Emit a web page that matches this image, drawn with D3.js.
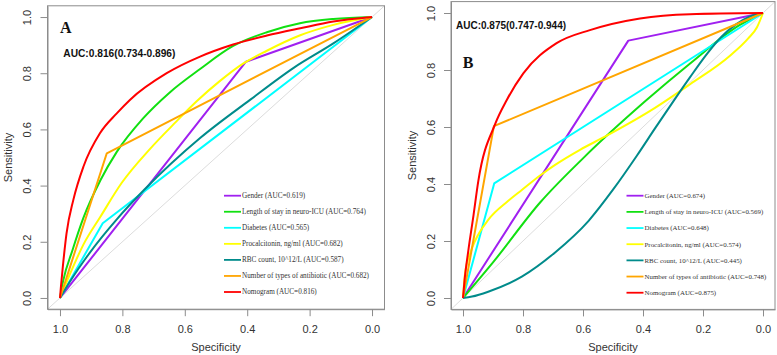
<!DOCTYPE html>
<html>
<head>
<meta charset="utf-8">
<script src="https://cdn.jsdelivr.net/npm/d3@7"></script>
<style>
  body { margin: 0; background: #fff; }
</style>
</head>
<body>
<svg id="chart" width="777" height="355"></svg>
<script>
// legend order (same in both panels)
const names = ["Gender", "Length of stay in neuro-ICU", "Diabetes", "Procalcitonin, ng/ml",
               "RBC count, 10^12/L", "Number of types of antibiotic", "Nomogram"];
const colors = ["#a020f0", "#11e011", "#00ffff", "#ffff00", "#008b8b", "#ffa500", "#ff0000"];
const smooth = [false, true, false, true, true, false, true];
const aucA = ["0.619", "0.764", "0.565", "0.682", "0.587", "0.682", "0.816"];
const aucB = ["0.674", "0.569", "0.648", "0.574", "0.445", "0.748", "0.875"];
const ticks = [0, 0.2, 0.4, 0.6, 0.8, 1.0];

// ROC points, [specificity, sensitivity] -- panel A
const genderA = [[1, 0], [0.404, 0.841], [0, 1]];
const losA = [[1, 0], [0.99, 0.06], [0.96, 0.17], [0.925, 0.285], [0.87, 0.42], [0.818, 0.52], [0.733, 0.64],
              [0.65, 0.73], [0.551, 0.815], [0.445, 0.897], [0.337, 0.946], [0.231, 0.978], [0.124, 0.993], [0, 1]];
const diabetesA = [[1, 0], [0.863, 0.266], [0, 1]];
const pctA = [[1, 0], [0.97, 0.08], [0.925, 0.19], [0.87, 0.29], [0.802, 0.41], [0.712, 0.53], [0.63, 0.625],
              [0.562, 0.70], [0.49, 0.77], [0.412, 0.835], [0.337, 0.88], [0.23, 0.935], [0.124, 0.972], [0, 1]];
const rbcA = [[1, 0], [0.97, 0.055], [0.906, 0.159], [0.818, 0.28], [0.73, 0.385], [0.55, 0.57],
              [0.391, 0.705], [0.25, 0.82], [0.124, 0.906], [0, 1]];
const abxA = [[1, 0], [0.85, 0.515], [0, 1]];
const nomoA = [[1, 0], [0.997, 0.04], [0.991, 0.11], [0.979, 0.23], [0.957, 0.35], [0.925, 0.467], [0.872, 0.586],
               [0.818, 0.657], [0.776, 0.705], [0.658, 0.80], [0.551, 0.859], [0.445, 0.902], [0.337, 0.934],
               [0.23, 0.96], [0.124, 0.984], [0, 1]];

// panel B
const genderB = [[1, 0], [0.449, 0.903], [0, 1]];
const losB = [[1, 0], [0.9, 0.125], [0.743, 0.335], [0.6, 0.49], [0.393, 0.69], [0.243, 0.823], [0.077, 0.958], [0, 1]];
const diabetesB = [[1, 0], [0.896, 0.402], [0, 1]];
const pctB = [[1, 0], [0.993, 0.087], [0.975, 0.16], [0.96, 0.2], [0.916, 0.274], [0.85, 0.34], [0.804, 0.379],
              [0.743, 0.43], [0.693, 0.467], [0.61, 0.52], [0.527, 0.566], [0.36, 0.667], [0.243, 0.75],
              [0.11, 0.85], [0.05, 0.91], [0.02, 0.95], [0, 1]];
const rbcB = [[1, 0], [0.97, 0.005], [0.916, 0.022], [0.804, 0.075], [0.693, 0.16], [0.582, 0.27], [0.5, 0.38],
              [0.42, 0.5], [0.36, 0.595], [0.299, 0.69], [0.243, 0.775], [0.188, 0.855], [0.14, 0.915],
              [0.09, 0.96], [0.045, 0.987], [0, 1]];
const abxB = [[1, 0], [0.897, 0.603], [0, 1]];
const nomoB = [[1, 0], [0.995, 0.06], [0.982, 0.168], [0.965, 0.29], [0.949, 0.41], [0.893, 0.61], [0.854, 0.695],
               [0.799, 0.788], [0.688, 0.894], [0.577, 0.94], [0.41, 0.981], [0.243, 0.996], [0, 1]];

const svg = d3.select("#chart");
const sans = "'Liberation Sans', Arial, sans-serif";
const serif = "'Liberation Serif', 'Times New Roman', serif";

const drawPanel = (p) => {
    // R style axes: 4% padding around [0,1]
    const x = d3.scaleLinear().domain([1.04, -0.04]).range([p.left, p.right]);
    const y = d3.scaleLinear().domain([-0.04, 1.04]).range([p.bottom, p.top]);
    const g = svg.append("g");

    // reference diagonal
    g.append("line")
        .attr("x1", x(1.04)).attr("y1", y(-0.04))
        .attr("x2", x(-0.04)).attr("y2", y(1.04))
        .attr("stroke", "#dcdcdc").attr("stroke-width", 1);

    // ROC curves
    p.series.forEach((s, i) => {
        const line = d3.line()
            .x(d => x(d[0]))
            .y(d => y(d[1]))
            .curve(smooth[i] ? d3.curveMonotoneX : d3.curveLinear);
        g.append("path")
            .datum(s)
            .attr("d", line)
            .attr("fill", "none")
            .attr("stroke", colors[i])
            .attr("stroke-width", 2)
            .attr("stroke-linejoin", "round");
    });

    // box
    g.append("rect")
        .attr("x", p.left).attr("y", p.top)
        .attr("width", p.right - p.left).attr("height", p.bottom - p.top)
        .attr("fill", "none").attr("stroke", "#8c8c8c").attr("stroke-width", 1);

    // x axis
    const xa = g.append("g")
        .attr("transform", `translate(0, ${p.bottom})`)
        .call(d3.axisBottom(x).tickValues(ticks).tickFormat(d3.format(".1f")).tickSize(7).tickSizeOuter(0));
    xa.select(".domain").attr("stroke", "#8c8c8c");
    xa.selectAll(".tick line").attr("stroke", "#8c8c8c");
    xa.selectAll("text")
        .attr("y", 24).attr("dy", 0)
        .style("font-family", sans).style("font-size", "11px").attr("fill", "#333");

    // y axis (labels parallel to the axis)
    const ya = g.append("g")
        .attr("transform", `translate(${p.left}, 0)`)
        .call(d3.axisLeft(y).tickValues(ticks).tickFormat(d3.format(".1f")).tickSize(7).tickSizeOuter(0));
    ya.select(".domain").attr("stroke", "#8c8c8c");
    ya.selectAll(".tick line").attr("stroke", "#8c8c8c");
    ya.selectAll("text")
        .attr("x", 0).attr("y", -p.ylabOff).attr("dy", "0.35em")
        .attr("transform", "rotate(-90)")
        .attr("text-anchor", "middle")
        .style("font-family", sans).style("font-size", "11px").attr("fill", "#333");

    // axis titles
    g.append("text")
        .attr("x", (x(1) + x(0)) / 2).attr("y", 350.5)
        .attr("text-anchor", "middle")
        .style("font-family", sans).style("font-size", "11px").attr("fill", "#333")
        .text("Specificity");
    g.append("text")
        .attr("transform", `translate(${p.ytitleX}, ${(y(0) + y(1)) / 2}) rotate(-90)`)
        .attr("text-anchor", "middle")
        .style("font-family", sans).style("font-size", "11px").attr("fill", "#333")
        .text("Sensitivity");

    // panel letter and AUC text
    g.append("text")
        .attr("x", p.letter[0]).attr("y", p.letter[1])
        .style("font-family", serif).style("font-size", "16px").style("font-weight", "bold")
        .attr("fill", "#111")
        .text(p.name);
    g.append("text")
        .attr("x", p.aucPos[0]).attr("y", p.aucPos[1])
        .style("font-family", sans).style("font-size", p.aucSize + "px").style("font-weight", "bold")
        .attr("fill", "#111")
        .text(p.aucText);

    // legend
    const lg = g.append("g");
    names.forEach((n, i) => {
        const ry = p.legY + i * p.legStep;
        lg.append("line")
            .attr("x1", p.legX).attr("x2", p.legX + 17)
            .attr("y1", ry).attr("y2", ry)
            .attr("stroke", colors[i]).attr("stroke-width", 1.8);
        lg.append("text")
            .attr("x", p.legX + 18).attr("y", ry + 2.4)
            .style("font-family", serif).style("font-size", p.legSize + "px")
            .attr("fill", "#333")
            .text(`${n} (AUC=${p.auc[i]})`);
    });
};

drawPanel({
    name: "A", left: 47.5, right: 384.5, top: 5.8, bottom: 309.2,
    series: [genderA, losA, diabetesA, pctA, rbcA, abxA, nomoA],
    auc: aucA, ylabOff: 20.5, ytitleX: 11.8,
    letter: [60, 32.7], aucPos: [63.3, 56.5], aucSize: 10.2, aucText: "AUC:0.816(0.734-0.896)",
    legX: 224, legY: 195.7, legStep: 16.05, legSize: 7.2
});

drawPanel({
    name: "B", left: 451, right: 775, top: 1.6, bottom: 309.4,
    series: [genderB, losB, diabetesB, pctB, rbcB, abxB, nomoB],
    auc: aucB, ylabOff: 20.3, ytitleX: 415.5,
    letter: [462.7, 68.3], aucPos: [456, 29], aucSize: 10, aucText: "AUC:0.875(0.747-0.944)",
    legX: 626.5, legY: 195.7, legStep: 16.17, legSize: 6.9
});
</script>
</body>
</html>
